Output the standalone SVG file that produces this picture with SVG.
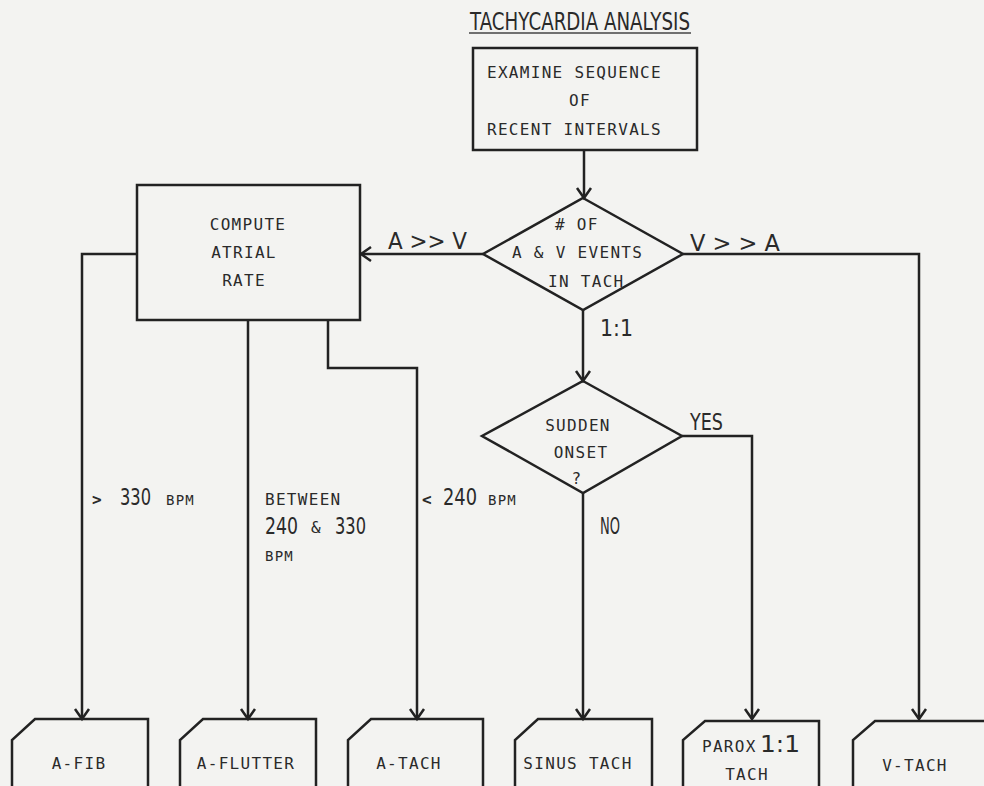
<svg xmlns="http://www.w3.org/2000/svg" width="984" height="786" viewBox="0 0 984 786">
  <style>
    .ln{fill:none;stroke:#222;stroke-width:2.5;stroke-linejoin:miter}
    .t{font-family:"DejaVu Sans Mono","Liberation Mono",monospace;font-size:16px;fill:#2a2a2a;letter-spacing:1.3px}
    .s{font-family:"DejaVu Sans Mono","Liberation Mono",monospace;font-size:14px;fill:#2a2a2a;letter-spacing:1.2px}
    .b{font-family:"DejaVu Sans","Liberation Sans",sans-serif;font-size:23px;fill:#2a2a2a}
    .ttl{font-family:"DejaVu Sans","Liberation Sans",sans-serif;font-size:25px;fill:#2a2a2a}
  </style>
  <defs>
    <marker id="arr" markerUnits="userSpaceOnUse" viewBox="-12 -9 14 18" refX="0" refY="0" markerWidth="14" markerHeight="18" orient="auto" overflow="visible">
      <path d="M-10,-7 L0,0 L-10,7" fill="none" stroke="#222" stroke-width="2.5"/>
    </marker>
  </defs>
  <rect width="984" height="786" fill="#f3f3f1"/>

  <g id="title">
    <text class="ttl" x="470" y="30" textLength="220" lengthAdjust="spacingAndGlyphs">TACHYCARDIA ANALYSIS</text>
    <line x1="469" y1="33" x2="691" y2="33" stroke="#444" stroke-width="1.5"/>
  </g>

  <g id="connectors">
    <path class="ln" d="M584,150 L584,198" marker-end="url(#arr)"/>
    <path class="ln" d="M483,254 L361,254" marker-end="url(#arr)"/>
    <path class="ln" d="M683,254 L919,254 L919,719" marker-end="url(#arr)"/>
    <path class="ln" d="M583,310 L583,381" marker-end="url(#arr)"/>
    <path class="ln" d="M137,254 L82,254 L82,719" marker-end="url(#arr)"/>
    <path class="ln" d="M248,320 L248,719" marker-end="url(#arr)"/>
    <path class="ln" d="M328,320 L328,368 L417,368 L417,719" marker-end="url(#arr)"/>
    <path class="ln" d="M682,436 L752,436 L752,719" marker-end="url(#arr)"/>
    <path class="ln" d="M583,493 L583,719" marker-end="url(#arr)"/>
    <text class="b" x="388" y="249" textLength="79" lengthAdjust="spacingAndGlyphs">A &gt;&gt; V</text>
    <text class="b" x="690" y="251" textLength="90" lengthAdjust="spacingAndGlyphs">V &gt; &gt; A</text>
    <text class="b" x="600" y="336" textLength="33" lengthAdjust="spacingAndGlyphs">1:1</text>
    <text class="b" x="690" y="430" textLength="33" lengthAdjust="spacingAndGlyphs">YES</text>
    <text class="b" x="600" y="534" textLength="20" lengthAdjust="spacingAndGlyphs">NO</text>
    <text class="t" x="92" y="505" font-weight="bold">&gt;</text>
    <text class="b" x="120" y="505" textLength="31" lengthAdjust="spacingAndGlyphs">330</text>
    <text class="s" x="166" y="505">BPM</text>
    <text class="t" x="265" y="505">BETWEEN</text>
    <text class="b" x="265" y="534" textLength="33" lengthAdjust="spacingAndGlyphs">240</text>
    <text class="t" x="311" y="533">&amp;</text>
    <text class="b" x="335" y="534" textLength="31" lengthAdjust="spacingAndGlyphs">330</text>
    <text class="s" x="265" y="561">BPM</text>
    <text class="t" x="422" y="505" font-weight="bold">&lt;</text>
    <text class="b" x="443" y="505" textLength="34" lengthAdjust="spacingAndGlyphs">240</text>
    <text class="s" x="488" y="505">BPM</text>
  </g>

  <g id="examine">
    <rect class="ln" x="473" y="48" width="224" height="102"/>
    <text class="t" x="487" y="78">EXAMINE SEQUENCE</text>
    <text class="t" x="580" y="106" text-anchor="middle">OF</text>
    <text class="t" x="487" y="135">RECENT INTERVALS</text>
  </g>

  <g id="events">
    <polygon class="ln" points="583,198 683,254 583,310 483,254"/>
    <text class="t" x="555" y="230"># OF</text>
    <text class="t" x="512" y="258">A &amp; V EVENTS</text>
    <text class="t" x="548" y="287">IN TACH</text>
  </g>

  <g id="compute">
    <rect class="ln" x="137" y="185" width="223" height="135"/>
    <text class="t" x="248" y="230" text-anchor="middle">COMPUTE</text>
    <text class="t" x="244" y="258" text-anchor="middle">ATRIAL</text>
    <text class="t" x="244" y="286" text-anchor="middle">RATE</text>
  </g>

  <g id="sudden">
    <polygon class="ln" points="583,381 682,436 583,493 482,436"/>
    <text class="t" x="578" y="431" text-anchor="middle">SUDDEN</text>
    <text class="t" x="581" y="458" text-anchor="middle">ONSET</text>
    <text class="t" x="577" y="484" text-anchor="middle">?</text>
  </g>

  <g id="afib">
    <path class="ln" d="M12,790 L12,740 L35,719 L148,719 L148,790"/>
    <text class="t" x="79" y="769" text-anchor="middle">A-FIB</text>
  </g>
  <g id="aflutter">
    <path class="ln" d="M180,790 L180,740 L203,719 L316,719 L316,790"/>
    <text class="t" x="246" y="769" text-anchor="middle">A-FLUTTER</text>
  </g>
  <g id="atach">
    <path class="ln" d="M348,790 L348,740 L371,719 L483,719 L483,790"/>
    <text class="t" x="409" y="769" text-anchor="middle">A-TACH</text>
  </g>
  <g id="sinus">
    <path class="ln" d="M515,790 L515,740 L538,719 L652,719 L652,790"/>
    <text class="t" x="578" y="769" text-anchor="middle">SINUS TACH</text>
  </g>
  <g id="parox">
    <path class="ln" d="M683,790 L683,740 L705,721 L819,721 L819,790"/>
    <text class="t" x="702" y="752">PAROX</text>
    <text class="b" x="760" y="752" textLength="40" lengthAdjust="spacingAndGlyphs">1:1</text>
    <text class="t" x="747" y="780" text-anchor="middle">TACH</text>
  </g>
  <g id="vtach">
    <path class="ln" d="M853,790 L853,740 L875,721 L990,721"/>
    <text class="t" x="915" y="771" text-anchor="middle">V-TACH</text>
  </g>
</svg>
